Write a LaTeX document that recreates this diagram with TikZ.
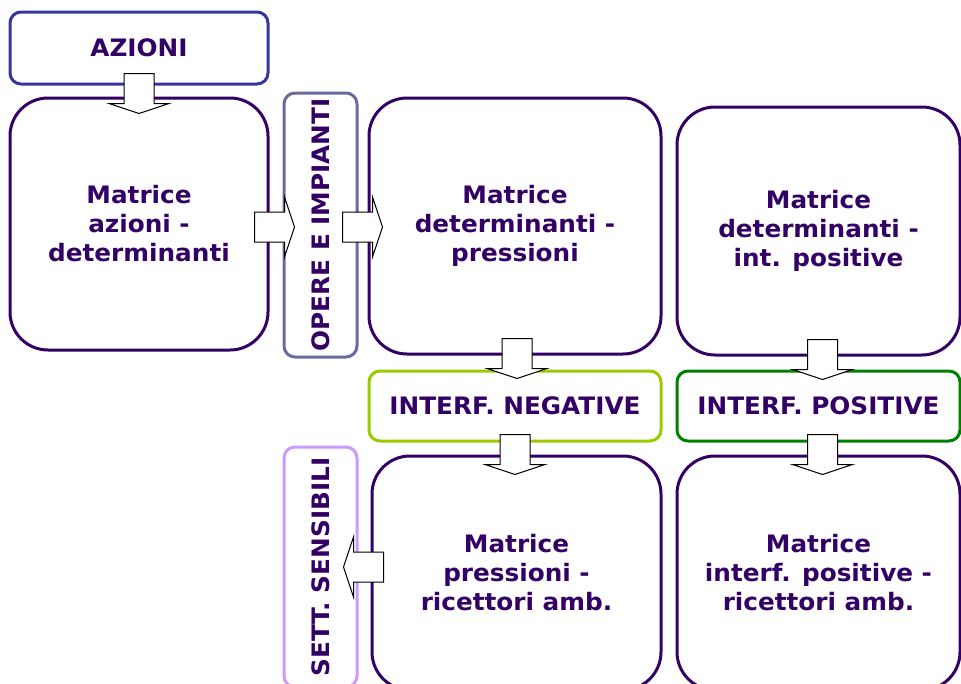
\documentclass[tikz,border=0pt]{standalone}
\usepackage{fontspec}
\setmainfont{DejaVu Sans}[FakeStretch=1.03]
\usepackage{xcolor}
\usetikzlibrary{calc}
\newdimen\pxu
\pxu=0.75pt
\definecolor{txtpurple}{HTML}{330066}
\definecolor{azblue}{HTML}{35359A}
\definecolor{opgray}{HTML}{6A6A9E}
\definecolor{settlilac}{HTML}{CC99FF}
\definecolor{neglime}{HTML}{99CC00}
\definecolor{posgreen}{HTML}{008000}
\begin{document}
\begin{tikzpicture}[
    x=0.75pt, y=-0.75pt,
    labelfont/.style={font=\bfseries\fontsize{18}{21.75}\selectfont, text=txtpurple},
    matbox/.style={rectangle, rounded corners=38\pxu, draw=txtpurple, line width=2.25pt, fill=white, align=center, inner sep=0pt, labelfont},
    tagbox/.style={rectangle, rounded corners=11\pxu, line width=2.25pt, fill=white, align=center, inner sep=0pt, labelfont},
    blockline/.style={draw=black, fill=white, line width=0.75pt, line join=miter},
    blockarrow/.pic={\draw[blockline] (-15,0) -- (15,0) -- (15,30) -- (30,30) -- (0,40) -- (-30,30) -- (-15,30) -- cycle;}
]
\useasboundingbox (0,0) rectangle (961,683);
\clip (0,0) rectangle (961,683);
\node[tagbox, draw=azblue, minimum width=258\pxu, minimum height=72\pxu] (azioni) at (139,48) {AZIONI};
\node[matbox, minimum width=258\pxu, minimum height=252\pxu] (matazdet) at (139,224) {Matrice\\azioni -\\determinanti};
\node[tagbox, draw=opgray, rotate=90, minimum width=264\pxu, minimum height=73\pxu] (opere) at (320.5,225) {OPERE E IMPIANTI};
\node[matbox, minimum width=292\pxu, minimum height=256\pxu] (matdetpr) at (515,226) {Matrice\\determinanti -\\pressioni};
\node[matbox, minimum width=283\pxu, minimum height=248\pxu] (matdetip) at (818.5,231) {Matrice\\determinanti -\\int. positive};
\node[tagbox, draw=neglime, minimum width=292\pxu, minimum height=70\pxu] (intneg) at (515,406) {INTERF. NEGATIVE};
\node[tagbox, draw=posgreen, minimum width=283\pxu, minimum height=70\pxu] (intpos) at (818.5,406) {INTERF. POSITIVE};
\node[tagbox, draw=settlilac, rotate=90, minimum width=240\pxu, minimum height=73\pxu] (sett) at (320.5,567) {SETT. SENSIBILI};
\node[matbox, minimum width=289\pxu, minimum height=234\pxu] (matprric) at (516.5,573) {Matrice\\pressioni -\\ricettori amb.};
\node[matbox, minimum width=283\pxu, minimum height=234\pxu] (matipric) at (818.5,573) {Matrice\\interf. positive -\\ricettori amb.};
\pic at ($(azioni.south)+(0,-12)$) {blockarrow};
\pic[rotate=90] at ($(matazdet.east)+(-15,3)$) {blockarrow};
\pic[rotate=90] at ($(matdetpr.west)+(-25,1)$) {blockarrow};
\pic at ($(matdetpr.south)+(2,-17)$) {blockarrow};
\pic at ($(matdetip.south)+(4,-17)$) {blockarrow};
\pic at ($(intneg.south)+(0,-8)$) {blockarrow};
\pic at ($(intpos.south)+(4,-8)$) {blockarrow};
\pic[rotate=-90] at ($(matprric.west)+(13,-6)$) {blockarrow};
\end{tikzpicture}
\end{document}
